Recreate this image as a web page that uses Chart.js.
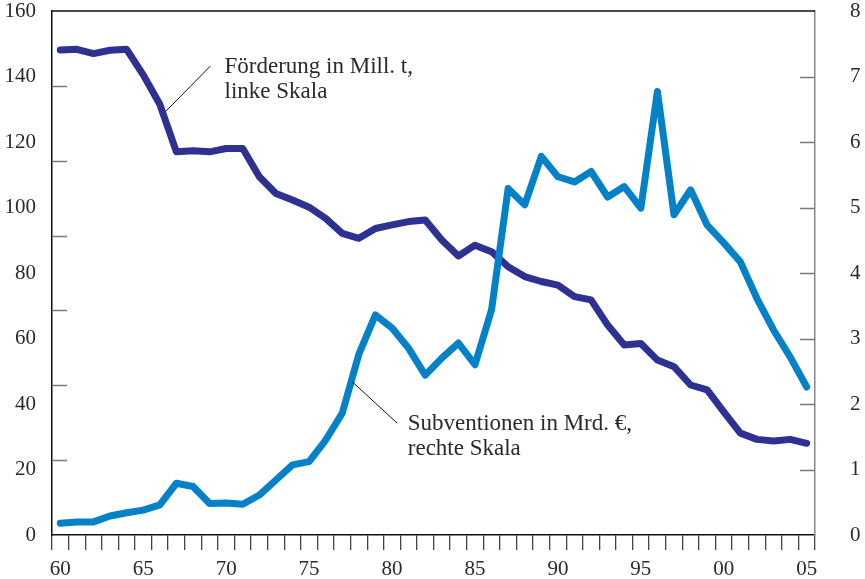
<!DOCTYPE html>
<html>
<head>
<meta charset="utf-8">
<script src="https://cdn.jsdelivr.net/npm/chart.js@4/dist/chart.umd.min.js"></script>
<style>
  html, body { margin: 0; padding: 0; background: #fff; }
  #wrap { width: 865px; height: 579px; }
</style>
</head>
<body>
<div id="wrap"><canvas id="chart"></canvas></div>
<script>
const years = [
  "1960", "1961", "1962", "1963", "1964", "1965", "1966", "1967", "1968", "1969",
  "1970", "1971", "1972", "1973", "1974", "1975", "1976", "1977", "1978", "1979",
  "1980", "1981", "1982", "1983", "1984", "1985", "1986", "1987", "1988", "1989",
  "1990", "1991", "1992", "1993", "1994", "1995", "1996", "1997", "1998", "1999",
  "2000", "2001", "2002", "2003", "2004", "2005"
];

// Förderung in Mill. t (linke Skala)
const foerderung = [
  148.1, 148.3, 147.0, 148.0, 148.3, 140.5, 131.5, 117.0, 117.3, 117.0,
  118.0, 118.0, 109.4, 104.3, 102.3, 100.1, 96.7, 92.1, 90.6, 93.6,
  94.7, 95.7, 96.2, 90.1, 85.2, 88.5, 86.5, 81.9, 78.9, 77.4,
  76.3, 72.8, 71.8, 64.1, 58.0, 58.5, 53.4, 51.4, 45.8, 44.3,
  37.6, 31.1, 29.2, 28.7, 29.2, 28.0
];

// Subventionen in Mrd. € (rechte Skala)
const subventionen = [
  0.18, 0.20, 0.20, 0.29, 0.34, 0.38, 0.46, 0.79, 0.74, 0.48,
  0.49, 0.47, 0.61, 0.84, 1.07, 1.12, 1.45, 1.86, 2.76, 3.36,
  3.16, 2.85, 2.44, 2.70, 2.93, 2.60, 3.44, 5.29, 5.04, 5.78,
  5.47, 5.39, 5.55, 5.16, 5.32, 4.99, 6.77, 4.89, 5.27, 4.73,
  4.46, 4.17, 3.61, 3.13, 2.72, 2.26
];

const leftTicks = [0, 20, 40, 60, 80, 100, 120, 140, 160];
const rightTicks = [0, 1, 2, 3, 4, 5, 6, 7, 8];

const serif = "'Liberation Serif', 'DejaVu Serif', serif";
const textColor = "#2a2a2a";

// Beschriftungen: Position in Achsenwerten (x = Jahresindex)
const notes = [
  { lines: ["Förderung in Mill. t,", "linke Skala"], axis: "yL", x: 9.9, y: 141,
    lead: [[9.05, 143.2], [6.35, 129.3]] },
  { lines: ["Subventionen in Mrd. €,", "rechte Skala"], axis: "yR", x: 20.95, y: 1.60,
    lead: [[17.6, 2.34], [20.3, 1.71]] }
];

const extras = {
  id: "extras",
  afterDraw(chart) {
    const { ctx, chartArea: a, scales } = chart;
    const { x, yL, yR } = scales;
    ctx.save();
    const seg = (x1, y1, x2, y2) => {
      ctx.beginPath(); ctx.moveTo(x1, y1); ctx.lineTo(x2, y2); ctx.stroke();
    };
    // Rahmen oben
    ctx.strokeStyle = "#111";
    ctx.lineWidth = 1.5;
    seg(a.left, a.top, a.right, a.top);
    // Innenliegende Striche
    ctx.strokeStyle = "#7a7a7a";
    for (let i = 1; i < 7; i++) {
      const y = Math.round(yL.getPixelForValue(i * 160 / 7)) + 0.5;
      seg(a.left, y, a.left + 15, y);
    }
    for (let v = 1; v < 8; v++) {
      const y = Math.round(yR.getPixelForValue(v)) + 0.5;
      seg(a.right - 15, y, a.right, y);
    }
    // Beschriftungen mit Hinweislinien
    ctx.fillStyle = textColor;
    ctx.font = "23px " + serif;
    ctx.textBaseline = "alphabetic";
    ctx.strokeStyle = "#111";
    ctx.lineWidth = 1;
    notes.forEach(n => {
      const sc = scales[n.axis];
      const tx = x.getPixelForValue(n.x);
      const ty = sc.getPixelForValue(n.y);
      n.lines.forEach((t, i) => ctx.fillText(t, tx, ty + i * 25));
      const p = n.lead.map(([lx, ly]) => [x.getPixelForValue(lx), sc.getPixelForValue(ly)]);
      seg(p[0][0], p[0][1], p[1][0], p[1][1]);
    });
    ctx.restore();
  }
};

new Chart(document.getElementById("chart"), {
  type: "line",
  data: {
    labels: years,
    datasets: [
      { label: "Subventionen in Mrd. €", data: subventionen, yAxisID: "yR",
        borderColor: "#0581c7", backgroundColor: "#0581c7" },
      { label: "Förderung in Mill. t", data: foerderung, yAxisID: "yL",
        borderColor: "#2e3192", backgroundColor: "#2e3192" }
    ]
  },
  options: {
    responsive: true,
    maintainAspectRatio: false,
    animation: false,
    layout: { padding: { top: 11, left: 0, right: 0, bottom: 0 } },
    plugins: { legend: { display: false }, tooltip: { enabled: false } },
    elements: {
      point: { radius: 0 },
      line: { borderWidth: 7, borderCapStyle: "round", borderJoinStyle: "round", tension: 0 }
    },
    scales: {
      x: {
        type: "category",
        offset: true,
        grid: { offset: true, drawOnChartArea: false, drawTicks: true, tickLength: 15, color: "#444", lineWidth: 1.3 },
        border: { color: "#111", width: 1.5 },
        ticks: {
          autoSkip: false, maxRotation: 0, minRotation: 0, padding: 7, color: textColor,
          font: { family: serif, size: 21 },
          callback: (v, i) => i % 5 === 0 ? years[i].slice(2) : ""
        },
        afterFit: s => { s.height = 44; }
      },
      yL: {
        position: "left",
        min: 0, max: 160,
        afterBuildTicks: s => { s.ticks = leftTicks.map(v => ({ value: v })); },
        grid: { drawOnChartArea: false, drawTicks: false },
        border: { color: "#111", width: 1.5 },
        ticks: { padding: 16, color: textColor, font: { family: serif, size: 21 } },
        afterFit: s => { s.width = 52; s.paddingTop = 0; s.paddingBottom = 0; }
      },
      yR: {
        position: "right",
        min: 0, max: 8,
        afterBuildTicks: s => { s.ticks = rightTicks.map(v => ({ value: v })); },
        grid: { drawOnChartArea: false, drawTicks: false },
        border: { color: "#888", width: 1.5 },
        ticks: { padding: 35, color: textColor, font: { family: serif, size: 21 } },
        afterFit: s => { s.width = 50; s.paddingTop = 0; s.paddingBottom = 0; }
      }
    }
  },
  plugins: [extras]
});
</script>
</body>
</html>
